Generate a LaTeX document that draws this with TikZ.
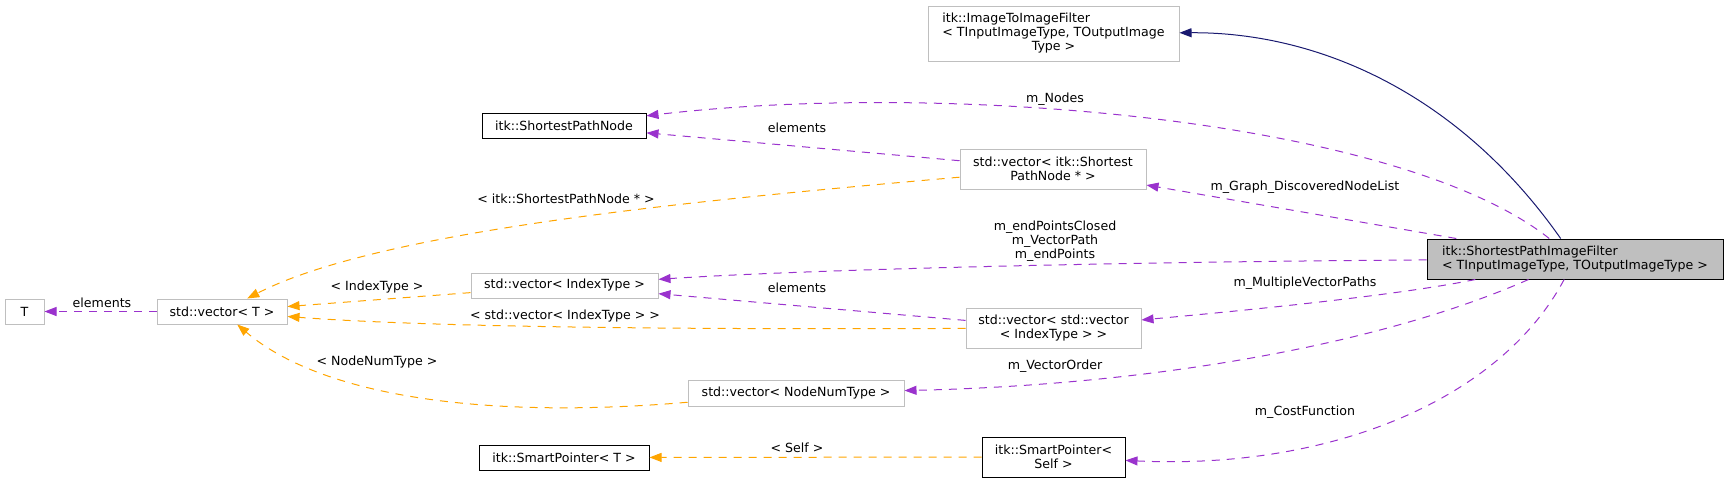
\documentclass[tikz,border=0pt]{standalone}
\usepackage{fontspec}
\setmainfont{DejaVu Sans}
\usetikzlibrary{arrows.meta}
\definecolor{usepurple}{HTML}{9A32CD}
\definecolor{tmplorange}{HTML}{FFA500}
\definecolor{inhnavy}{HTML}{191970}
\definecolor{boxgray}{HTML}{BFBFBF}

\begin{document}
\begin{tikzpicture}[x=1pt, y=-1pt,
    font=\fontsize{12.6}{14}\selectfont,
    cls/.style={draw=black, line width=1pt, inner sep=0pt, align=center},
    ext/.style={draw=boxgray, line width=1pt, inner sep=0pt, align=center},
    usedby/.style={usepurple, line width=1pt, dash pattern=on 8pt off 7pt, -{Triangle[length=12pt,width=9pt]}},
    tmplof/.style={tmplorange, line width=1pt, dash pattern=on 8pt off 7pt, -{Triangle[length=12pt,width=9pt]}},
    inherits/.style={inhnavy, line width=1pt, -{Triangle[length=12pt,width=9pt]}},
    lbl/.style={inner sep=0pt, align=center}]
    \useasboundingbox (0,0) rectangle (1728,483);

    \node[cls, fill=boxgray, align=left, minimum width=296pt, minimum height=40pt] (filter) at (1575,259)
        {itk::ShortestPathImageFilter\\< TInputImageType, TOutputImageType >};
    \node[ext, minimum width=251pt, minimum height=55pt] (imgfilter) at (1053.5,33.5)
        {\begin{tabular}{@{}l@{}}itk::ImageToImageFilter\\< TInputImageType, TOutputImage\\\multicolumn{1}{@{}c@{}}{Type >}\end{tabular}};
    \node[cls, minimum width=164pt, minimum height=25pt] (spnode) at (564,125.5) {itk::ShortestPathNode};
    \node[ext, minimum width=186pt, minimum height=40pt] (vecspn) at (1053,169) {std::vector< itk::Shortest\\PathNode * >};
    \node[ext, minimum width=187pt, minimum height=25pt] (vecidx) at (564.5,285.5) {std::vector< IndexType >};
    \node[ext, minimum width=175pt, minimum height=40pt] (vecvec) at (1053.5,328) {std::vector< std::vector\\< IndexType > >};
    \node[ext, minimum width=216pt, minimum height=26pt] (vecnnt) at (796,393) {std::vector< NodeNumType >};
    \node[ext, minimum width=130pt, minimum height=25pt] (vect) at (222,311.5) {std::vector< T >};
    \node[ext, minimum width=39pt, minimum height=25pt] (tparam) at (24.5,311.5) {T};
    \node[cls, minimum width=170pt, minimum height=25pt] (sptrt) at (564,457.5) {itk::SmartPointer< T >};
    \node[cls, minimum width=143pt, minimum height=40pt] (sptrself) at (1053.5,457) {itk::SmartPointer<\\Self >};

    \draw[inherits] (filter) .. controls (1460,95) and (1320,32) .. (imgfilter);
    \draw[usedby] (filter) .. controls (1400,120) and (950,80) .. (spnode);
    \draw[usedby] (vecspn) -- (spnode);
    \draw[tmplof] (vecspn) .. controls (700,200) and (380,230) .. (vect);
    \draw[usedby] (filter) -- (vecspn);
    \draw[usedby] (filter) .. controls (1100,262) and (800,270) .. (vecidx);
    \draw[usedby] (vecvec) -- (vecidx);
    \draw[tmplof] (vecidx) -- (vect);
    \draw[tmplof] (vecvec) .. controls (600,330) and (400,325) .. (vect);
    \draw[usedby] (filter) .. controls (1400,295) and (1250,310) .. (vecvec);
    \draw[usedby] (filter) .. controls (1380,345) and (1150,385) .. (vecnnt);
    \draw[tmplof] (vecnnt) .. controls (480,420) and (320,395) .. (vect);
    \draw[usedby] (vect) -- (tparam);
    \draw[usedby] (filter) .. controls (1500,400) and (1330,470) .. (sptrself);
    \draw[tmplof] (sptrself) -- (sptrt);

    \node[lbl] (lnodes) at (1055,99) {m\_Nodes};
    \node[lbl] (lelemspn) at (797,128) {elements};
    \node[lbl] (lspnptr) at (566,199) {< itk::ShortestPathNode * >};
    \node[lbl] (lgraph) at (1305,187) {m\_Graph\_DiscoveredNodeList};
    \node[lbl] (lendpts) at (1055,241) {m\_endPointsClosed\\m\_VectorPath\\m\_endPoints};
    \node[lbl] (lidx) at (377,287) {< IndexType >};
    \node[lbl] (lelemidx) at (797,288) {elements};
    \node[lbl] (lvecidx) at (565,316) {< std::vector< IndexType > >};
    \node[lbl] (lmulti) at (1305,283) {m\_MultipleVectorPaths};
    \node[lbl] (lelemt) at (102,303) {elements};
    \node[lbl] (lorder) at (1055,366) {m\_VectorOrder};
    \node[lbl] (lnnt) at (377,362) {< NodeNumType >};
    \node[lbl] (lcost) at (1305,412) {m\_CostFunction};
    \node[lbl] (lself) at (797,448) {< Self >};
\end{tikzpicture}
\end{document}
